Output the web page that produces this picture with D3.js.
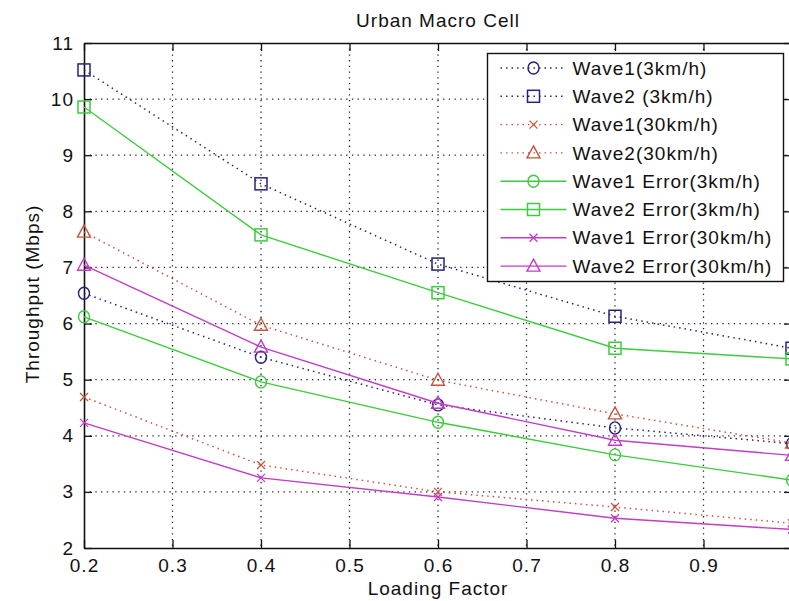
<!DOCTYPE html>
<html>
<head>
<meta charset="utf-8">
<script src="https://cdn.jsdelivr.net/npm/d3@7"></script>
<style>
  body { margin: 0; background: #fff; }
  text { font-family: "Liberation Sans", Arial, sans-serif; font-size: 19px; letter-spacing: 1px; fill: #111; }
</style>
</head>
<body>
<div id="chart"></div>
<script>
var loadingFactor = [0.2, 0.4, 0.6, 0.8, 1.0];
var wave1_3km = [6.54, 5.40, 4.55, 4.14, 3.86];
var wave2_3km = [10.52, 8.49, 7.06, 6.13, 5.56];
var wave1_30km = [4.69, 3.48, 3.00, 2.73, 2.44];
var wave2_30km = [7.63, 5.97, 4.99, 4.39, 3.87];
var wave1Err_3km = [6.12, 4.96, 4.24, 3.66, 3.21];
var wave2Err_3km = [9.86, 7.58, 6.55, 5.56, 5.37];
var wave1Err_30km = [4.23, 3.25, 2.91, 2.53, 2.33];
var wave2Err_30km = [7.04, 5.58, 4.58, 3.92, 3.65];
var seriesNames = ["Wave1(3km/h)", "Wave2 (3km/h)", "Wave1(30km/h)", "Wave2(30km/h)",
    "Wave1 Error(3km/h)", "Wave2 Error(3km/h)", "Wave1 Error(30km/h)", "Wave2 Error(30km/h)"];
var xTicks = [0.2, 0.3, 0.4, 0.5, 0.6, 0.7, 0.8, 0.9, 1.0];
// the 1.0 label falls outside the cropped picture, so it is left blank
var xTickLabels = ["0.2", "0.3", "0.4", "0.5", "0.6", "0.7", "0.8", "0.9", ""];
var yTicks = [2, 3, 4, 5, 6, 7, 8, 9, 10, 11];

var blue = "#23237f", red = "#c4553f", green = "#3ccc3c", magenta = "#c23cc6";
var series = [
    {name: seriesNames[0], values: wave1_3km, color: blue, marker: "circle", dotted: true},
    {name: seriesNames[1], values: wave2_3km, color: blue, marker: "square", dotted: true},
    {name: seriesNames[2], values: wave1_30km, color: red, marker: "x", dotted: true},
    {name: seriesNames[3], values: wave2_30km, color: red, marker: "triangle", dotted: true},
    {name: seriesNames[4], values: wave1Err_3km, color: green, marker: "circle", dotted: false},
    {name: seriesNames[5], values: wave2Err_3km, color: green, marker: "square", dotted: false},
    {name: seriesNames[6], values: wave1Err_30km, color: magenta, marker: "x", dotted: false},
    {name: seriesNames[7], values: wave2Err_30km, color: magenta, marker: "triangle", dotted: false}
];

var width = 789, height = 601;
var plot = {left: 84, right: 792, top: 43, bottom: 548};

var xScale = d3.scaleLinear().domain([0.2, 1.0]).range([plot.left, plot.right]);
var yScale = d3.scaleLinear().domain([2, 11]).range([plot.bottom, plot.top]);

var svg = d3.select("#chart").append("svg")
    .attr("width", width)
    .attr("height", height);

// dotted grid
svg.append("g").selectAll("line").data(xTicks.slice(1, -1)).enter().append("line")
    .attr("x1", d => xScale(d)).attr("x2", d => xScale(d))
    .attr("y1", plot.top).attr("y2", plot.bottom)
    .attr("stroke", "#222").attr("stroke-width", 1.3).attr("stroke-dasharray", "1.3,4.4");
svg.append("g").selectAll("line").data(yTicks.slice(1, -1)).enter().append("line")
    .attr("x1", plot.left).attr("x2", plot.right)
    .attr("y1", d => yScale(d)).attr("y2", d => yScale(d))
    .attr("stroke", "#222").attr("stroke-width", 1.3).attr("stroke-dasharray", "1.3,4.4");

// axes, ticks inside like matlab
var xAxis = d3.axisBottom(xScale).tickValues(xTicks).tickSize(-8).tickSizeOuter(0).tickPadding(11)
    .tickFormat((d, i) => xTickLabels[i]);
var yAxis = d3.axisLeft(yScale).tickValues(yTicks).tickSize(-8).tickSizeOuter(0).tickPadding(10)
    .tickFormat(d3.format("d"));

svg.append("g").attr("transform", "translate(0," + plot.bottom + ")").call(xAxis);
svg.append("g").attr("transform", "translate(" + plot.left + ",0)").call(yAxis);
svg.append("g").attr("transform", "translate(0," + plot.top + ")")
    .call(d3.axisTop(xScale).tickValues(xTicks).tickSize(-8).tickSizeOuter(0).tickFormat(""));
svg.append("g").attr("transform", "translate(" + plot.right + ",0)")
    .call(d3.axisRight(yScale).tickValues(yTicks).tickSize(-8).tickSizeOuter(0).tickFormat(""));

svg.selectAll(".domain").attr("stroke", "#111").attr("stroke-width", 1.6);
svg.selectAll(".tick line").attr("stroke", "#111").attr("stroke-width", 1.3);
svg.selectAll(".tick text").attr("fill", "#111").style("font-size", "19px")
    .style("font-family", "'Liberation Sans', Arial, sans-serif");

function drawMarker(g, type, color) {
    if (type === "circle") {
        g.append("ellipse").attr("rx", 5.5).attr("ry", 6)
            .attr("fill", "none").attr("stroke", color).attr("stroke-width", 1.4);
    } else if (type === "square") {
        g.append("rect").attr("x", -6).attr("y", -6).attr("width", 12).attr("height", 12)
            .attr("fill", "none").attr("stroke", color).attr("stroke-width", 1.5);
    } else if (type === "triangle") {
        g.append("path").attr("d", "M0,-7L6.5,5L-6.5,5Z")
            .attr("fill", "none").attr("stroke", color).attr("stroke-width", 1.4);
    } else {
        g.append("path").attr("d", "M-4,-4L4,4M-4,4L4,-4")
            .attr("fill", "none").attr("stroke", color).attr("stroke-width", 1.3);
    }
}

var lineGen = d3.line()
    .x((d, i) => xScale(loadingFactor[i]))
    .y(d => yScale(d));

series.forEach(function(s) {
    svg.append("path")
        .attr("d", lineGen(s.values))
        .attr("fill", "none")
        .attr("stroke", s.color)
        .attr("stroke-width", s.dotted ? 1.5 : 1.4)
        .attr("stroke-dasharray", s.dotted ? "1.5,4" : null);
    s.values.forEach(function(v, i) {
        var m = svg.append("g")
            .attr("transform", "translate(" + xScale(loadingFactor[i]) + "," + yScale(v) + ")");
        drawMarker(m, s.marker, s.color);
    });
});

// legend
var legend = svg.append("g").attr("transform", "translate(487.5,53.5)");
legend.append("rect")
    .attr("width", 296).attr("height", 228)
    .attr("fill", "#fff").attr("stroke", "#111").attr("stroke-width", 1.4);

series.forEach(function(s, i) {
    var rowY = 14.5 + i * 28.3;
    legend.append("line")
        .attr("x1", 13).attr("x2", 79).attr("y1", rowY).attr("y2", rowY)
        .attr("stroke", s.color).attr("stroke-width", 1.4)
        .attr("stroke-dasharray", s.dotted ? "1.5,4" : null);
    var m = legend.append("g").attr("transform", "translate(46," + rowY + ")");
    drawMarker(m, s.marker, s.color);
    legend.append("text")
        .attr("x", 85).attr("y", rowY)
        .attr("dy", "0.35em")
        .text(s.name);
});

// titles
svg.append("text")
    .attr("x", 438).attr("y", 27)
    .attr("text-anchor", "middle")
    .text("Urban Macro Cell");

svg.append("text")
    .attr("x", 438).attr("y", 595)
    .attr("text-anchor", "middle")
    .text("Loading Factor");

svg.append("text")
    .attr("transform", "rotate(-90)")
    .attr("x", -294).attr("y", 39)
    .attr("text-anchor", "middle")
    .text("Throughput (Mbps)");
</script>
</body>
</html>
